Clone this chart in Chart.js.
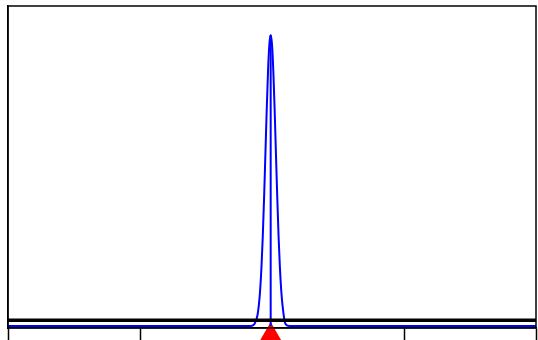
<!DOCTYPE html>
<html>
<head>
<meta charset="utf-8">
<script src="https://cdn.jsdelivr.net/npm/chart.js@4/dist/chart.umd.min.js"></script>
<style>
  body { margin: 0; background: #fff; }
  #wrap { width: 538px; height: 340px; }
</style>
</head>
<body>
<div id="wrap"><canvas id="myChart"></canvas></div>
<script>
// values
const peakX = [-2, -0.16, -0.13, -0.11, -0.10, -0.09, -0.08, -0.07, -0.06, -0.05, -0.04, -0.03, -0.02, -0.01,
               0.00, 0.01, 0.02, 0.03, 0.04, 0.05, 0.06, 0.07, 0.08, 0.10, 0.13, 2];
const peakY = [0, 0, 0.009, 0.037, 0.070, 0.122, 0.200, 0.306, 0.440, 0.591, 0.744, 0.877, 0.968, 1.0,
               0.968, 0.877, 0.744, 0.591, 0.440, 0.306, 0.200, 0.122, 0.070, 0.009, 0, 0];
const stemX = [-0.01, -0.01];
const stemY = [0, 1.0];
const levelX = [-2, 2];
const levelY = [0.02, 0.02];
const markerX = [-0.01];
const markerY = [-0.031];
const xTicks = [-2, -1, 0, 1, 2];

function pts(xs, ys) {
    return xs.map((x, i) => ({ x: x, y: ys[i] }));
}

// box round the plot area
const frame = {
    id: 'frame',
    afterDraw(chart) {
        const a = chart.chartArea;
        const c = chart.ctx;
        c.save();
        c.strokeStyle = '#000';
        c.lineWidth = 1.5;
        c.strokeRect(a.left, a.top, a.right - a.left, a.bottom - a.top);
        c.restore();
    }
};

const ctx = document.getElementById('myChart').getContext('2d');
const myChart = new Chart(ctx, {
    type: 'scatter',
    data: {
        datasets: [
            {
                data: pts(levelX, levelY),
                showLine: true,
                borderColor: '#000',
                borderWidth: 3.5,
                pointRadius: 0
            },
            {
                data: pts(peakX, peakY),
                showLine: true,
                borderColor: '#0000ff',
                borderWidth: 2,
                pointRadius: 0,
                cubicInterpolationMode: 'monotone'
            },
            {
                data: pts(stemX, stemY),
                showLine: true,
                borderColor: '#0000ff',
                borderWidth: 2,
                pointRadius: 0
            },
            {
                data: pts(markerX, markerY),
                pointStyle: 'triangle',
                pointRadius: 13,
                backgroundColor: '#ff0000',
                borderWidth: 0,
                clip: false
            }
        ]
    },
    options: {
        responsive: true,
        maintainAspectRatio: false,
        animation: false,
        layout: { padding: { left: 8, top: 6, right: 2, bottom: 0 } },
        scales: {
            x: {
                type: 'linear',
                min: -2,
                max: 2,
                afterBuildTicks: (scale) => {
                    scale.ticks = xTicks.map(v => ({ value: v }));
                },
                ticks: { display: false },
                grid: {
                    drawOnChartArea: false,
                    drawTicks: true,
                    tickLength: 12,
                    tickWidth: 1.5,
                    tickColor: '#000'
                },
                border: { color: '#000', width: 1.5 }
            },
            y: {
                min: -0.007,
                max: 1.1,
                ticks: { display: false },
                grid: { drawOnChartArea: false, drawTicks: false },
                border: { color: '#000', width: 1.5 }
            }
        },
        plugins: {
            legend: { display: false },
            tooltip: { enabled: false }
        }
    },
    plugins: [frame]
});

// the big marker should not shrink the plot area
myChart.getDatasetMeta(3).controller.getMaxOverflow = () => 0;
myChart.update();
</script>
</body>
</html>
